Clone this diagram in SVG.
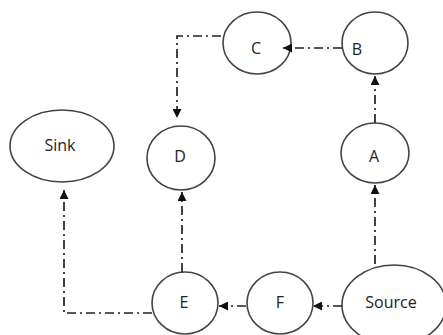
<svg xmlns="http://www.w3.org/2000/svg" width="443" height="335" viewBox="0 0 443 335">
<defs>
<marker id="ah" viewBox="0 0 10 10" refX="10" refY="5" markerWidth="10" markerHeight="9" markerUnits="userSpaceOnUse" orient="auto">
<path d="M0,0 L10,5 L0,10 z" fill="#111"/>
</marker>
<style>
.n{fill:#fff;stroke:#444;stroke-width:1.6}
.t{font-family:"Open Sans","Liberation Sans",sans-serif;font-size:16px;fill:#222;text-anchor:middle;dominant-baseline:central}
.e{fill:none;stroke:#222;stroke-width:1.7;stroke-dasharray:9,4,2,4}
</style>
</defs>
<rect width="443" height="335" fill="#fff"/>
<g id="node-C"><ellipse class="n" cx="257" cy="43" rx="34" ry="31"/><text class="t" x="256" y="48">C</text></g>
<g id="node-B"><ellipse class="n" cx="375" cy="43" rx="33" ry="31"/><text class="t" x="357" y="49">B</text></g>
<g id="node-A"><ellipse class="n" cx="375" cy="153" rx="34" ry="30"/><text class="t" x="374" y="156">A</text></g>
<g id="node-D"><ellipse class="n" cx="181" cy="158" rx="34" ry="32"/><text class="t" x="180" y="156">D</text></g>
<g id="node-Sink"><ellipse class="n" cx="62" cy="146" rx="52" ry="36"/><text class="t" x="60" y="145">Sink</text></g>
<g id="node-E"><ellipse class="n" cx="185" cy="303" rx="33" ry="31"/><text class="t" x="184" y="302">E</text></g>
<g id="node-F"><ellipse class="n" cx="280" cy="303" rx="33" ry="31"/><text class="t" x="280" y="302">F</text></g>
<g id="node-Source"><ellipse class="n" cx="394" cy="305" rx="52" ry="40"/><text class="t" x="391" y="302">Source</text></g>
<g id="edges">
<path class="e" d="M342,48 L283,48" marker-end="url(#ah)"/>
<path class="e" d="M221,36 L177,36 L177,118" marker-end="url(#ah)"/>
<path class="e" d="M375,123 L375,76" marker-end="url(#ah)"/>
<path class="e" d="M375,264 L375,185" marker-end="url(#ah)"/>
<path class="e" d="M182,272 L182,192" marker-end="url(#ah)"/>
<path class="e" d="M152,313 L64,313 L64,190" marker-end="url(#ah)"/>
<path class="e" d="M246,306 L219,306" marker-end="url(#ah)"/>
<path class="e" d="M342,306 L313,306" marker-end="url(#ah)"/>
</g>
</svg>
